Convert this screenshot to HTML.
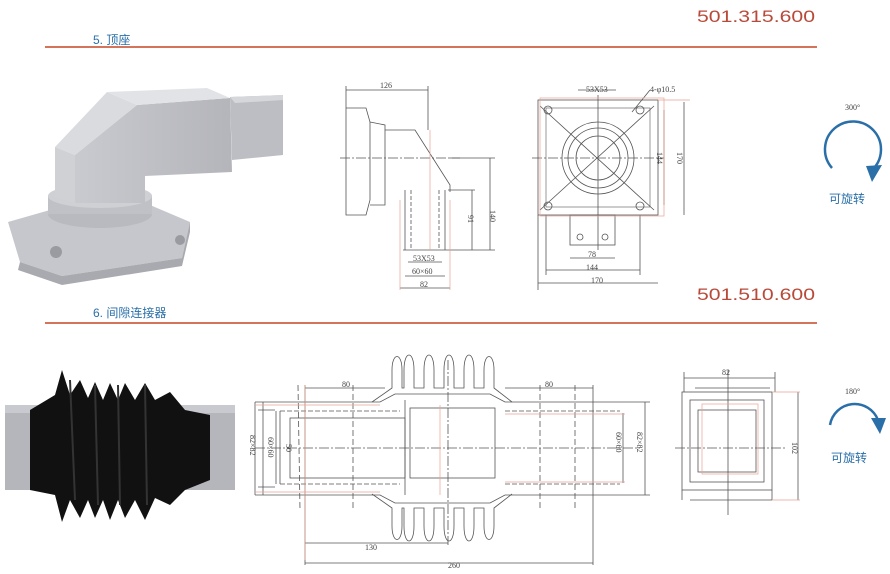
<!DOCTYPE html>
<html><head><meta charset="utf-8"><style>
html,body{margin:0;padding:0;background:#fff;}
svg{display:block;}
.t{font-family:"Liberation Serif","Noto Serif CJK SC",serif;fill:#444;font-size:8px;}
.code{font-family:"Liberation Sans Narrow","Liberation Sans",sans-serif;font-size:17px;fill:#b84a3a;}
</style></head><body>
<svg width="890" height="574" viewBox="0 0 890 574" xmlns="http://www.w3.org/2000/svg">
<defs>
<linearGradient id="gA" x1="0" y1="0" x2="1" y2="0"><stop offset="0" stop-color="#c9cacf"/><stop offset="1" stop-color="#b4b5ba"/></linearGradient>
</defs>
<!-- headers -->
<text x="697" y="22" class="code" textLength="118" lengthAdjust="spacingAndGlyphs">501.315.600</text>
<text x="93" y="44" font-family="Liberation Sans,'Noto Sans CJK SC',sans-serif" font-size="12" fill="#2a6fa8">5. 顶座</text>
<rect x="45" y="46" width="772" height="2" fill="#d4745a"/>
<text x="697" y="300" class="code" textLength="118" lengthAdjust="spacingAndGlyphs">501.510.600</text>
<text x="93" y="317" font-family="Liberation Sans,'Noto Sans CJK SC',sans-serif" font-size="12" fill="#2a6fa8">6. 间隙连接器</text>
<rect x="45" y="322" width="772" height="2" fill="#d4745a"/>

<!-- mount photo -->
<polygon points="8,222 50,210 150,205 190,222 182,258 62,276 20,262" fill="#c6c7cc"/>
<polygon points="20,262 62,276 182,258 190,222 190,232 182,266 62,285 18,270" fill="#a9aaaf"/>
<circle cx="56" cy="252" r="6" fill="#9a9ba0"/><circle cx="180" cy="240" r="5" fill="#9a9ba0"/>
<ellipse cx="100" cy="214" rx="52" ry="14" fill="#b9babf"/>
<rect x="48" y="196" width="104" height="18" fill="#c0c1c6"/>
<ellipse cx="100" cy="196" rx="52" ry="12" fill="#cfd0d4"/>
<polygon points="55,147 107,92 137,105 75,155" fill="#dadbdf"/>
<polygon points="75,155 137,105 230,98 232,172 145,176 145,203 75,203" fill="url(#gA)"/>
<polygon points="107,92 207,88 230,98 137,105" fill="#e2e3e6"/>
<polygon points="55,147 75,155 75,203 55,197" fill="#d0d1d5"/>
<polygon points="230,97 283,95 283,155 232,160" fill="#bdbec3"/>
<polygon points="230,97 283,95 283,100 235,103" fill="#d6d7db"/>

<!-- top side view -->
<g stroke="#555" stroke-width="0.8" fill="none">
<line x1="346" y1="90" x2="428" y2="90"/><line x1="346" y1="86" x2="346" y2="108"/><line x1="428" y1="86" x2="428" y2="130"/>
<polyline points="346,108 366,108 370,122 370,200 366,215 346,215 346,108"/>
<polyline points="370,122 385,125 385,205 370,205"/>
<polyline points="385,130 415,130 450,185 450,192"/>
<line x1="405" y1="190" x2="405" y2="250"/><line x1="445" y1="190" x2="445" y2="250"/>
<line x1="403" y1="250" x2="447" y2="250"/>
<line x1="411" y1="190" x2="411" y2="250" stroke-dasharray="4,2"/><line x1="439" y1="190" x2="439" y2="250" stroke-dasharray="4,2"/>
<line x1="448" y1="190" x2="475" y2="190"/><line x1="472" y1="190" x2="472" y2="250"/>
<line x1="450" y1="158" x2="495" y2="158"/><line x1="490" y1="158" x2="490" y2="250"/><line x1="447" y1="250" x2="495" y2="250"/>
<line x1="408" y1="262" x2="442" y2="262"/><line x1="405" y1="276" x2="445" y2="276"/><line x1="400" y1="288" x2="450" y2="288"/>
<line x1="340" y1="158" x2="460" y2="158" stroke-dasharray="10,2,2,2"/>
</g>
<g stroke="#e9a392" stroke-width="0.7" fill="none">
<line x1="400" y1="200" x2="400" y2="290"/><line x1="450" y1="200" x2="450" y2="290"/><line x1="430" y1="130" x2="430" y2="250"/>
</g>
<text class="t" x="380" y="88">126</text><text class="t" x="490" y="210" transform="rotate(90 490 210)">140</text>
<text class="t" x="468" y="215" transform="rotate(90 468 215)">91</text>
<text class="t" x="413" y="261">53X53</text><text class="t" x="412" y="274">60×60</text><text class="t" x="420" y="287">82</text>

<!-- top front view -->
<g stroke="#555" stroke-width="0.8" fill="none">
<rect x="538" y="100" width="120" height="115"/>
<rect x="546" y="108" width="104" height="99" stroke-width="0.6"/>
<circle cx="598" cy="158" r="36"/><circle cx="598" cy="158" r="30"/><circle cx="598" cy="158" r="22"/>
<line x1="540" y1="106" x2="654" y2="210"/><line x1="654" y1="106" x2="540" y2="210"/>
<line x1="598" y1="95" x2="598" y2="250"/><line x1="532" y1="158" x2="664" y2="158" stroke-dasharray="10,2,2,2"/>
<circle cx="548" cy="110" r="4"/><circle cx="640" cy="110" r="4"/><circle cx="548" cy="206" r="4"/><circle cx="640" cy="206" r="4"/>
<rect x="570" y="215" width="45" height="30"/>
<circle cx="580" cy="237" r="3"/><circle cx="605" cy="237" r="3"/>
<line x1="578" y1="90" x2="616" y2="90"/><line x1="632" y1="112" x2="650" y2="90"/>
<line x1="664" y1="110" x2="664" y2="205"/><line x1="684" y1="102" x2="684" y2="215"/>
<line x1="570" y1="258" x2="615" y2="258"/><line x1="546" y1="270" x2="640" y2="270"/><line x1="538" y1="283" x2="658" y2="283"/>
<line x1="538" y1="215" x2="538" y2="290"/><line x1="546" y1="215" x2="546" y2="275"/><line x1="640" y1="215" x2="640" y2="275"/>
</g>
<g stroke="#e9a392" stroke-width="0.7" fill="none">
<rect x="540" y="98" width="124" height="118"/><line x1="658" y1="100" x2="690" y2="100"/>
</g>
<text class="t" x="586" y="92">53X53</text><text class="t" x="650" y="92">4-φ10.5</text>
<text class="t" x="657" y="152" transform="rotate(90 657 152)">144</text><text class="t" x="677" y="152" transform="rotate(90 677 152)">170</text>
<text class="t" x="588" y="257">78</text><text class="t" x="586" y="270">144</text><text class="t" x="591" y="283">170</text>

<!-- 300 rotation -->
<text x="845" y="110" class="t" font-size="10" fill="#2a6fa8">300°</text>
<path d="M832,168 A28,28 0 1 1 872,170" fill="none" stroke="#2a6fa8" stroke-width="2.5"/>
<polygon points="866,166 882,165 872,182" fill="#2a6fa8"/>
<text x="829" y="203" font-family="Liberation Sans,'Noto Sans CJK SC',sans-serif" font-size="12" fill="#2a6fa8">可旋转</text>

<!-- bellows photo -->
<rect x="5" y="405" width="230" height="85" fill="#b5b6bb"/>
<rect x="5" y="405" width="230" height="8" fill="#c9cacf"/>
<path d="M30,410 L55,395 L62,370 L70,395 L80,380 L88,398 L95,382 L103,400 L110,383 L118,400 L125,383 L135,400 L145,383 L155,400 L170,392 L185,410 L210,415 L210,480 L185,490 L170,505 L155,498 L145,520 L135,500 L125,518 L118,500 L110,520 L103,500 L95,518 L88,500 L80,518 L70,500 L62,522 L55,495 L30,490 Z" fill="#111"/>
<path d="M70,380 L75,500 M95,385 L98,505 M118,385 L120,505 M145,385 L147,505" stroke="#333" stroke-width="2"/>

<!-- bottom main drawing -->
<g stroke="#555" stroke-width="0.8" fill="none">
<path d="M372,402 L392,388 L392,370 C392,352 402,352 402,370 L402,388 L404,388 L404,370 C404,350 414,350 414,370 L414,388 L424,388 L424,370 C424,350 434,350 434,370 L434,388 L444,388 L444,370 C444,350 454,350 454,370 L454,388 L464,388 L464,370 C464,350 474,350 474,370 L474,388 L484,388 L484,370 C484,352 494,352 494,370 L494,388 L512,402"/>
<path d="M372,494 L392,508 L392,526 C392,544 402,544 402,526 L402,508 L404,508 L404,526 C404,546 414,546 414,526 L414,508 L424,508 L424,526 C424,546 434,546 434,526 L434,508 L444,508 L444,526 C444,546 454,546 454,526 L454,508 L464,508 L464,526 C464,546 474,546 474,526 L474,508 L484,508 L484,526 C484,544 494,544 494,526 L494,508 L512,494"/>
<polyline points="255,402 380,402 395,394 490,394 505,402 593,402"/>
<polyline points="255,495 380,495 395,503 490,503 505,495 593,495"/>
<line x1="255" y1="402" x2="255" y2="495"/>
<line x1="258" y1="410" x2="275" y2="410"/><line x1="258" y1="487" x2="275" y2="487"/>
<line x1="280" y1="411" x2="400" y2="411" stroke-dasharray="5,2"/><line x1="280" y1="484" x2="400" y2="484" stroke-dasharray="5,2"/>
<line x1="280" y1="411" x2="280" y2="484"/>
<rect x="290" y="418" width="115" height="60"/>
<rect x="410" y="408" width="85" height="70"/>
<line x1="405" y1="400" x2="405" y2="495"/>
<line x1="505" y1="411" x2="620" y2="411" stroke-dasharray="5,2"/><line x1="505" y1="484" x2="620" y2="484" stroke-dasharray="5,2"/>
<line x1="298" y1="385" x2="300" y2="510" stroke-dasharray="6,3"/><line x1="353" y1="385" x2="353" y2="510" stroke-dasharray="6,3"/>
<line x1="540" y1="385" x2="540" y2="510" stroke-dasharray="6,3"/><line x1="575" y1="385" x2="575" y2="510" stroke-dasharray="6,3"/>
<line x1="448" y1="360" x2="448" y2="545" stroke-dasharray="10,2,2,2"/>
<line x1="255" y1="448" x2="640" y2="448" stroke-dasharray="10,2,2,2"/>
<line x1="305" y1="388" x2="385" y2="388"/><line x1="505" y1="388" x2="593" y2="388"/>
<line x1="593" y1="385" x2="593" y2="565"/><line x1="305" y1="385" x2="305" y2="565"/>
<line x1="305" y1="543" x2="448" y2="543"/><line x1="305" y1="563" x2="593" y2="563"/>
<line x1="645" y1="402" x2="645" y2="495"/><line x1="623" y1="413" x2="623" y2="483"/>
<line x1="593" y1="402" x2="650" y2="402"/><line x1="593" y1="495" x2="650" y2="495"/>
<line x1="263" y1="402" x2="263" y2="495"/><line x1="276" y1="411" x2="276" y2="484"/>
</g>
<g stroke="#e9a392" stroke-width="0.7" fill="none">
<line x1="305" y1="385" x2="305" y2="560"/><line x1="440" y1="405" x2="440" y2="495"/>
<line x1="505" y1="414" x2="625" y2="414"/><line x1="505" y1="482" x2="625" y2="482"/>
<line x1="255" y1="405" x2="380" y2="405"/><line x1="255" y1="492" x2="380" y2="492"/>
</g>
<text class="t" x="342" y="387">80</text><text class="t" x="545" y="387">80</text>
<text class="t" x="365" y="550">130</text><text class="t" x="448" y="568">260</text>
<text class="t" x="250" y="435" transform="rotate(90 250 435)">82×82</text>
<text class="t" x="268" y="437" transform="rotate(90 268 437)">60×60</text>
<text class="t" x="286" y="444" transform="rotate(90 286 444)">50</text>
<text class="t" x="616" y="432" transform="rotate(90 616 432)">60×60</text>
<text class="t" x="637" y="432" transform="rotate(90 637 432)">82×82</text>

<!-- right view -->
<g stroke="#555" stroke-width="0.8" fill="none">
<rect x="682" y="392" width="90" height="98"/>
<rect x="690" y="400" width="74" height="82"/>
<rect x="698" y="410" width="58" height="62"/>
<line x1="695" y1="388" x2="770" y2="388"/>
<line x1="684" y1="378" x2="775" y2="378"/><line x1="684" y1="372" x2="684" y2="392"/><line x1="775" y1="372" x2="775" y2="392"/>
<line x1="798" y1="392" x2="798" y2="500"/>
<line x1="728" y1="370" x2="728" y2="515"/><line x1="675" y1="448" x2="785" y2="448" stroke-dasharray="10,2,2,2"/>
<line x1="682" y1="490" x2="682" y2="500"/><line x1="772" y1="490" x2="772" y2="500"/><line x1="690" y1="500" x2="772" y2="500"/>
</g>
<g stroke="#e9a392" stroke-width="0.7" fill="none"><rect x="702" y="404" width="56" height="70"/><line x1="772" y1="392" x2="800" y2="392"/><line x1="772" y1="500" x2="800" y2="500"/></g>
<text class="t" x="722" y="375">82</text><text class="t" x="792" y="442" transform="rotate(90 792 442)">102</text>

<!-- 180 rotation -->
<text x="845" y="394" class="t" font-size="10" fill="#2a6fa8">180°</text>
<path d="M830,425 A25,25 0 0 1 878,420" fill="none" stroke="#2a6fa8" stroke-width="2.5"/>
<polygon points="871,418 886,418 880,434" fill="#2a6fa8"/>
<text x="831" y="462" font-family="Liberation Sans,'Noto Sans CJK SC',sans-serif" font-size="12" fill="#2a6fa8">可旋转</text>
</svg>
</body></html>
